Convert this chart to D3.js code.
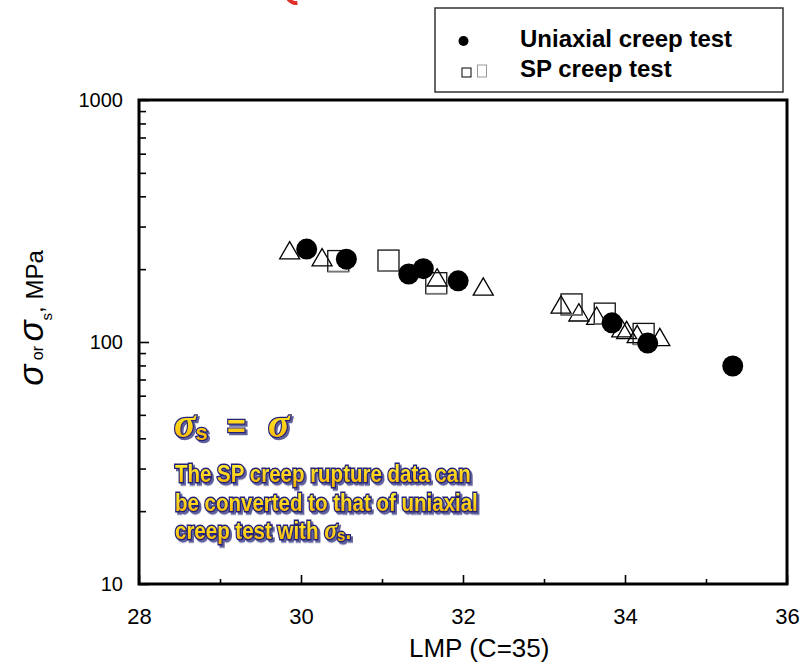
<!DOCTYPE html>
<html><head><meta charset="utf-8">
<script src="https://cdn.jsdelivr.net/npm/d3@7"></script>
<style>
body{margin:0;background:#fff}
svg{display:block;font-family:Arial,"Liberation Sans",sans-serif}
</style>
</head><body>
<svg id="chart" width="807" height="667"></svg>
<script>
// Larson-Miller parameter (C=35) vs stress, MPa
const uniaxialLMP    = [30.07, 30.56, 31.33, 31.51, 31.94, 33.84, 34.28, 35.33];
const uniaxialStress = [242, 220, 191, 201, 179, 120, 99, 79.6];

const spSquareLMP    = [30.46, 31.08, 31.67, 33.34, 33.75, 34.23];
const spSquareStress = [216, 217, 175, 143, 131, 108];

const spTriangleLMP    = [29.86, 30.26, 31.68, 32.25, 33.21, 33.43, 33.65, 33.96, 34.02, 34.15, 34.43];
const spTriangleStress = [233, 218, 180, 165, 139, 129, 125, 111, 109, 105, 102];

const xMajorTicks = [28, 30, 32, 34, 36];
const xMinorTicks = [29, 31, 33, 35];
const yMajorTicks = [10, 100, 1000];
const yMinorTicks = [20, 30, 40, 50, 60, 70, 80, 90, 200, 300, 400, 500, 600, 700, 800, 900];

const legendLabels = ["Uniaxial creep test", "SP creep test"];
const noteLines = ["The SP creep rupture data can", "be converted to that of uniaxial", "creep test with "];

const svg = d3.select("#chart");
const plotL = 139, plotR = 787, plotT = 100, plotB = 584;

const x = d3.scaleLinear().domain([28, 36]).range([plotL, plotR]);
const y = d3.scaleLog().domain([10, 1000]).range([plotB, plotT]);

// gradient and drop shadow for the highlighted note
const defs = svg.append("defs");
const grad = defs.append("linearGradient").attr("id", "gold").attr("x1", 0).attr("y1", 0).attr("x2", 0).attr("y2", 1);
grad.append("stop").attr("offset", "0%").attr("stop-color", "#fff23a");
grad.append("stop").attr("offset", "55%").attr("stop-color", "#ffd21a");
grad.append("stop").attr("offset", "100%").attr("stop-color", "#f2a900");
defs.append("filter").attr("id", "shadow").attr("x", "-5%").attr("y", "-20%").attr("width", "115%").attr("height", "150%")
  .append("feDropShadow").attr("dx", 2).attr("dy", 2).attr("stdDeviation", 0.4)
  .attr("flood-color", "#4f4f92").attr("flood-opacity", 0.9);

// small red mark at the top edge
svg.append("path")
  .attr("d", d3.arc()({innerRadius: 7, outerRadius: 11, startAngle: Math.PI * 0.95, endAngle: Math.PI * 1.55}))
  .attr("transform", "translate(296,-6)")
  .attr("fill", "#e0302a");

// axes
const yMajor = d3.axisLeft(y).tickValues(yMajorTicks).tickSize(-10).tickPadding(16).tickFormat(d3.format("d"));
const yMinor = d3.axisLeft(y).tickValues(yMinorTicks).tickSize(-7).tickFormat("");
const xMajor = d3.axisBottom(x).tickValues(xMajorTicks).tickSize(-9).tickPadding(24).tickFormat(d3.format("d"));
const xMinor = d3.axisBottom(x).tickValues(xMinorTicks).tickSize(-5).tickFormat("");

function styleAxis(g, fs) {
  g.select(".domain").remove();
  g.selectAll(".tick line").attr("stroke", "#000").attr("stroke-width", 1.6);
  g.selectAll(".tick text").attr("font-size", fs).attr("fill", "#000")
    .attr("font-family", "Arial, 'Liberation Sans', sans-serif");
}
svg.append("g").attr("transform", `translate(${plotL},0)`).call(yMinor).call(g => styleAxis(g, 20));
svg.append("g").attr("transform", `translate(${plotL},0)`).call(yMajor).call(g => styleAxis(g, 20));
svg.append("g").attr("transform", `translate(0,${plotB})`).call(xMinor).call(g => styleAxis(g, 22));
svg.append("g").attr("transform", `translate(0,${plotB})`).call(xMajor).call(g => styleAxis(g, 22));

// frame
svg.append("rect").attr("x", plotL).attr("y", plotT).attr("width", plotR - plotL).attr("height", plotB - plotT)
  .attr("fill", "none").attr("stroke", "#000").attr("stroke-width", 3);

// axis titles
svg.append("text").attr("x", 409).attr("y", 657).attr("font-size", 26).attr("fill", "#000").text("LMP (C=35)");

const yTitle = svg.append("text").attr("transform", "translate(43,318) rotate(-90)")
  .attr("text-anchor", "middle").attr("fill", "#000");
yTitle.append("tspan").attr("font-size", 35).attr("font-style", "italic").text("σ");
yTitle.append("tspan").attr("font-size", 16).text(" or ");
yTitle.append("tspan").attr("font-size", 35).attr("font-style", "italic").text("σ");
yTitle.append("tspan").attr("font-size", 15).attr("dy", 9).text("s");
yTitle.append("tspan").attr("font-size", 24).attr("dy", -9).text(", MPa");

// data marks
const triangles = spTriangleLMP.map((v, i) => ({lmp: v, s: spTriangleStress[i]}));
svg.append("g").selectAll("path").data(triangles).join("path")
  .attr("d", d3.symbol().type(d3.symbolTriangle).size(173))
  .attr("transform", d => `translate(${x(d.lmp)},${y(d.s)})`)
  .attr("fill", "none").attr("stroke", "#000").attr("stroke-width", 1.3);

const squares = spSquareLMP.map((v, i) => ({lmp: v, s: spSquareStress[i]}));
const sq = svg.append("g").selectAll("g").data(squares).join("g")
  .attr("transform", d => `translate(${x(d.lmp)},${y(d.s)})`);
sq.append("rect").attr("x", -10.5).attr("y", -10.5).attr("width", 21).attr("height", 21)
  .attr("fill", "none").attr("stroke", "#111").attr("stroke-width", 1.3);
sq.append("line").attr("x1", -10.5).attr("x2", 10.5).attr("y1", 10.5).attr("y2", 10.5)
  .attr("stroke", "#777").attr("stroke-width", 1.6);

const circles = uniaxialLMP.map((v, i) => ({lmp: v, s: uniaxialStress[i]}));
svg.append("g").selectAll("circle").data(circles).join("circle")
  .attr("cx", d => x(d.lmp)).attr("cy", d => y(d.s)).attr("r", 10.5).attr("fill", "#000");

// legend
const lg = svg.append("g");
lg.append("rect").attr("x", 435).attr("y", 8).attr("width", 348).attr("height", 84)
  .attr("fill", "#fff").attr("stroke", "#333").attr("stroke-width", 1.5);
lg.append("circle").attr("cx", 463.5).attr("cy", 41).attr("r", 5).attr("fill", "#000");
lg.append("rect").attr("x", 462).attr("y", 68).attr("width", 9).attr("height", 9)
  .attr("fill", "#fff").attr("stroke", "#000").attr("stroke-width", 1);
lg.append("rect").attr("x", 477.5).attr("y", 65).attr("width", 9).attr("height", 12)
  .attr("fill", "#fff").attr("stroke", "#999").attr("stroke-width", 1);
lg.selectAll("text").data(legendLabels).join("text")
  .attr("x", 520).attr("y", (d, i) => i === 0 ? 47 : 77)
  .attr("font-size", 24).attr("font-weight", "bold").attr("fill", "#000").text(d => d);

// highlighted note: navy outline, gold fill, drop shadow
function fancyText(g) {
  return g.append("text").attr("fill", "url(#gold)").attr("stroke", "#23237a").attr("stroke-width", 2.4)
    .attr("paint-order", "stroke").attr("font-weight", "bold").attr("filter", "url(#shadow)");
}
const serif = "'Liberation Serif', 'Times New Roman', serif";
const eq = fancyText(svg.append("g").attr("transform", "translate(174,437)"));
eq.append("tspan").attr("x", 0).attr("y", 0).attr("font-size", 40).attr("font-style", "italic")
  .attr("font-family", serif).text("σ");
eq.append("tspan").attr("font-size", 22).attr("dy", 3).text("s");
eq.append("tspan").attr("x", 53).attr("dy", -3).attr("font-size", 32).text("=");
eq.append("tspan").attr("x", 94).attr("font-size", 40).attr("font-style", "italic")
  .attr("font-family", serif).text("σ");

noteLines.forEach((line, i) => {
  const t = fancyText(svg.append("g").attr("transform", `translate(175,${482 + i * 28.5}) scale(1,1.15)`))
    .attr("x", 0).attr("y", 0).attr("font-size", 20.5);
  t.append("tspan").text(line);
  if (i === 2) {
    t.append("tspan").attr("font-style", "italic").attr("font-size", 24)
      .attr("font-family", serif).text("σ");
    t.append("tspan").attr("font-size", 15).attr("dy", 2).text("s");
    t.append("tspan").attr("dy", -2).text(".");
  }
});
</script>
</body></html>
